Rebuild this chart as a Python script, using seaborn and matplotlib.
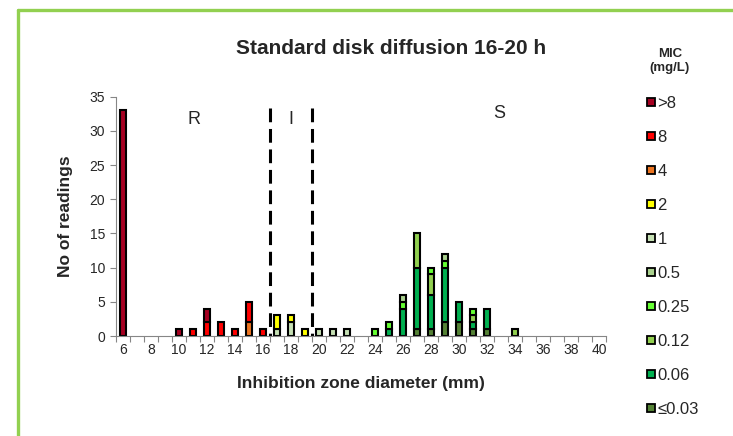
import numpy as np
import pandas as pd
import matplotlib
matplotlib.use("Agg")
import matplotlib.pyplot as plt
from matplotlib.lines import Line2D
import seaborn as sns

# Inhibition zone diameters (mm) that have readings
diameter_mm = [6, 10, 11, 12, 13, 14, 15, 16, 17, 18, 19, 20,
               21, 22, 24, 25, 26, 27, 28, 29, 30, 31, 32, 34]

# Number of readings per MIC class, aligned with diameter_mm
n_gt8   = [33, 1, 0, 2, 0, 0, 0, 0, 0, 0, 0, 0, 0, 0, 0, 0, 0, 0, 0, 0, 0, 0, 0, 0]
n_8     = [0, 0, 1, 2, 2, 1, 3, 1, 0, 0, 0, 0, 0, 0, 0, 0, 0, 0, 0, 0, 0, 0, 0, 0]
n_4     = [0, 0, 0, 0, 0, 0, 2, 0, 0, 0, 0, 0, 0, 0, 0, 0, 0, 0, 0, 0, 0, 0, 0, 0]
n_2     = [0, 0, 0, 0, 0, 0, 0, 0, 2, 1, 1, 0, 0, 0, 0, 0, 0, 0, 0, 0, 0, 0, 0, 0]
n_1     = [0, 0, 0, 0, 0, 0, 0, 0, 1, 2, 0, 1, 1, 1, 0, 0, 0, 0, 0, 0, 0, 0, 0, 0]
n_0_5   = [0, 0, 0, 0, 0, 0, 0, 0, 0, 0, 0, 0, 0, 0, 0, 0, 1, 0, 0, 1, 0, 0, 0, 0]
n_0_25  = [0, 0, 0, 0, 0, 0, 0, 0, 0, 0, 0, 0, 0, 0, 1, 1, 1, 0, 1, 1, 0, 1, 0, 0]
n_0_12  = [0, 0, 0, 0, 0, 0, 0, 0, 0, 0, 0, 0, 0, 0, 0, 0, 0, 5, 3, 0, 0, 1, 0, 1]
n_0_06  = [0, 0, 0, 0, 0, 0, 0, 0, 0, 0, 0, 0, 0, 0, 0, 1, 4, 9, 5, 8, 3, 1, 3, 0]
n_le003 = [0, 0, 0, 0, 0, 0, 0, 0, 0, 0, 0, 0, 0, 0, 0, 0, 0, 1, 1, 2, 2, 1, 1, 0]

mic_labels = [">8", "8", "4", "2", "1", "0.5", "0.25", "0.12", "0.06", "≤0.03"]
mic_counts = [n_gt8, n_8, n_4, n_2, n_1, n_0_5, n_0_25, n_0_12, n_0_06, n_le003]
mic_colors = ["#a50021", "#ff0000", "#ec7420", "#ffff00", "#c6e0b4",
              "#a9d18e", "#66ff33", "#92d050", "#00b050", "#548235"]

# breakpoints R < 17, S >= 20
breakpoints = [16.5, 19.5]
zone_labels = ["R", "I", "S"]

x_ticks = [6, 8, 10, 12, 14, 16, 18, 20, 22, 24, 26, 28, 30, 32, 34, 36, 38, 40]
y_ticks = [0, 5, 10, 15, 20, 25, 30, 35]

# long format table for seaborn
rows = []
for lab, counts in zip(mic_labels, mic_counts):
    for d, n in zip(diameter_mm, counts):
        if n > 0:
            rows.append({"diameter": d, "MIC": lab, "count": n})
df = pd.DataFrame(rows)

sns.set_theme(style="white")
plt.rcParams["font.family"] = ["Liberation Sans", "DejaVu Sans"]

fig = plt.figure(figsize=(7.33, 4.36), dpi=100)
ax = fig.add_axes([116 / 733, 100 / 436, 490 / 733, 239.3 / 436])

sns.histplot(
    data=df, x="diameter", weights="count",
    hue="MIC", hue_order=mic_labels,
    palette=dict(zip(mic_labels, mic_colors)),
    multiple="stack", discrete=True, shrink=0.42,
    edgecolor="black", linewidth=1.5, alpha=1,
    legend=False, ax=ax
)
# hide empty stack pieces
for p in ax.patches:
    if p.get_height() == 0:
        p.set_visible(False)

# breakpoint lines
for bp in breakpoints:
    ax.plot([bp, bp], [33.3, 0], color="black", lw=2.2,
            dashes=(4.5, 2.2), solid_capstyle="butt")

ax.text(11.1, 31.6, zone_labels[0], ha="center", va="center", fontsize=13)
ax.text(18.0, 31.6, zone_labels[1], ha="center", va="center", fontsize=13)
ax.text(32.9, 32.5, zone_labels[2], ha="center", va="center", fontsize=13)

ax.set_xlim(5.5, 40.5)
ax.set_ylim(0, 35)
ax.set_xticks(x_ticks)
ax.set_xticks(np.arange(5.5, 41, 1), minor=True)
ax.set_yticks(y_ticks)
ax.tick_params(axis="x", which="major", length=0, labelsize=10, pad=5)
ax.tick_params(axis="x", which="minor", length=4, width=0.8,
               color="#868686", direction="out", bottom=True)
ax.tick_params(axis="y", length=4, width=0.8, color="#868686",
               direction="out", left=True, labelsize=10, pad=4)

for s in ["top", "right"]:
    ax.spines[s].set_visible(False)
for s in ["left", "bottom"]:
    ax.spines[s].set_color("#868686")
    ax.spines[s].set_linewidth(0.8)

ax.set_xlabel("Inhibition zone diameter (mm)", fontsize=12.5, weight="bold", labelpad=14)
ax.set_ylabel("No of readings", fontsize=12.5, weight="bold", labelpad=12)

fig.text(391 / 733, 1 - 48 / 436, "Standard disk diffusion 16-20 h",
         ha="center", va="center", fontsize=15, weight="bold")

fig.text(670 / 733, 1 - 61 / 436, "MIC\n(mg/L)", ha="center", va="center",
         fontsize=9.5, weight="bold", multialignment="center", linespacing=1.25)

handles = [Line2D([], [], marker="s", ls="none", markersize=6,
                  markerfacecolor=c, markeredgecolor="black", markeredgewidth=1.3)
           for c in mic_colors]
leg = fig.legend(handles, mic_labels, loc="upper left",
                 bbox_to_anchor=(645 / 733, 1 - 96 / 436), frameon=False,
                 fontsize=12, labelspacing=1.14, handlelength=0.7,
                 handletextpad=0.05, borderpad=0, borderaxespad=0)

# green chart frame
fig.add_artist(Line2D([17.5 / 733, 17.5 / 733], [0, 1 - 10 / 436],
                      transform=fig.transFigure, color="#92d050", lw=2.4))
fig.add_artist(Line2D([17.5 / 733, 1], [1 - 10 / 436, 1 - 10 / 436],
                      transform=fig.transFigure, color="#92d050", lw=2.4))

fig.savefig("out.png", dpi=100)
